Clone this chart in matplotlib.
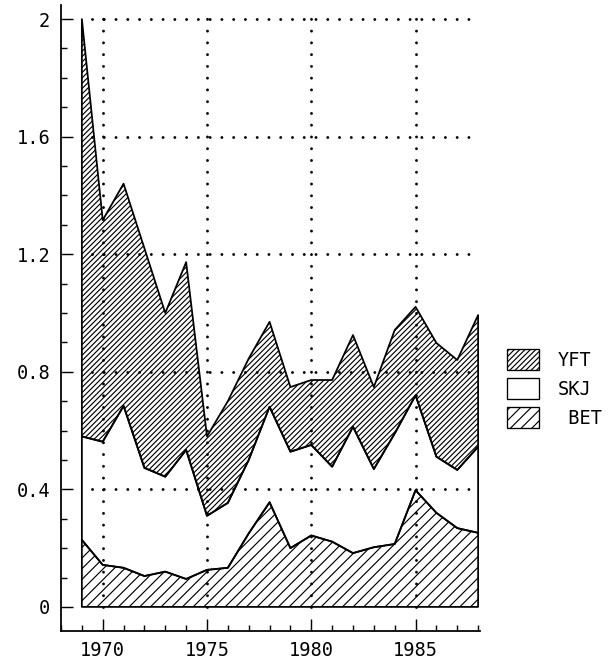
import numpy as np
import matplotlib
matplotlib.use("Agg")
from matplotlib import pyplot as plt
from matplotlib.patches import Patch
from matplotlib.ticker import FixedLocator, MultipleLocator, FuncFormatter

years = np.arange(1969, 1989)
bet = [0.228, 0.143, 0.133, 0.105, 0.120, 0.095, 0.126, 0.133, 0.250, 0.356,
       0.200, 0.243, 0.222, 0.183, 0.203, 0.214, 0.397, 0.320, 0.268, 0.252]
skj = [0.352, 0.419, 0.551, 0.368, 0.323, 0.439, 0.184, 0.221, 0.250, 0.325,
       0.328, 0.308, 0.255, 0.430, 0.266, 0.376, 0.323, 0.191, 0.198, 0.293]
yft = [1.420, 0.754, 0.756, 0.747, 0.557, 0.639, 0.270, 0.346, 0.345, 0.289,
       0.220, 0.221, 0.295, 0.312, 0.279, 0.352, 0.301, 0.387, 0.374, 0.448]
species = ["YFT", "SKJ", " BET"]
x_major = [1970, 1975, 1980, 1985]
y_grid = [0.4, 0.8, 1.2, 1.6, 2.0]

plt.rcParams["font.family"] = "DejaVu Sans Mono"
plt.rcParams["hatch.linewidth"] = 1.3
plt.rcParams["hatch.color"] = "black"

DPI = 64
fig = plt.figure(figsize=(611 / DPI, 664 / DPI), dpi=DPI)
ax = fig.add_axes([61 / 611, 33 / 664, 419 / 611, 626 / 664])

bet_top = np.array(bet)
skj_top = bet_top + np.array(skj)
yft_top = skj_top + np.array(yft)

# dotted grid, drawn under the (transparent) hatched areas
dots = dict(color="black", linestyle=(0, (0.01, 4.0)), lw=3.3, dash_capstyle="round")
for yy in y_grid:
    ax.plot([1969.5, 1988], [yy, yy], **dots)
for xx in x_major:
    ax.plot([xx, xx], [0, 2.02], **dots)

ax.fill_between(years, 0, bet_top, facecolor="none", edgecolor="black", hatch="//", lw=2)
ax.fill_between(years, bet_top, skj_top, facecolor="none", edgecolor="black", lw=2)
ax.fill_between(years, skj_top, yft_top, facecolor="none", edgecolor="black", hatch="////", lw=2)

ax.set_xlim(1968, 1988.09)
ax.set_ylim(-0.082, 2.048)
for side in ["top", "right"]:
    ax.spines[side].set_visible(False)
for side in ["left", "bottom"]:
    ax.spines[side].set_linewidth(2)

ax.xaxis.set_major_locator(FixedLocator(x_major))
ax.xaxis.set_minor_locator(MultipleLocator(1))
ax.yaxis.set_major_locator(MultipleLocator(0.4))
ax.yaxis.set_minor_locator(MultipleLocator(0.1))
ax.yaxis.set_major_formatter(FuncFormatter(lambda v, p: f"{v:g}"))

ax.tick_params(which="both", direction="in", width=1.6, labelsize=21)
ax.tick_params(which="major", length=13.5)
ax.tick_params(which="minor", length=7)
ax.tick_params(axis="y", pad=12)
ax.tick_params(axis="x", pad=11)

handles = [
    Patch(facecolor="white", edgecolor="black", hatch="////", lw=1.5),
    Patch(facecolor="white", edgecolor="black", lw=1.5),
    Patch(facecolor="white", edgecolor="black", hatch="//", lw=1.5),
]
fig.legend(handles, species, loc="upper left", bbox_to_anchor=(507 / 611, 1 - 349 / 664),
           frameon=False, fontsize=21, handlelength=1.7, handleheight=1.32,
           handletextpad=1.0, labelspacing=0.45, borderpad=0, borderaxespad=0)

fig.savefig("out.png", dpi=DPI)
